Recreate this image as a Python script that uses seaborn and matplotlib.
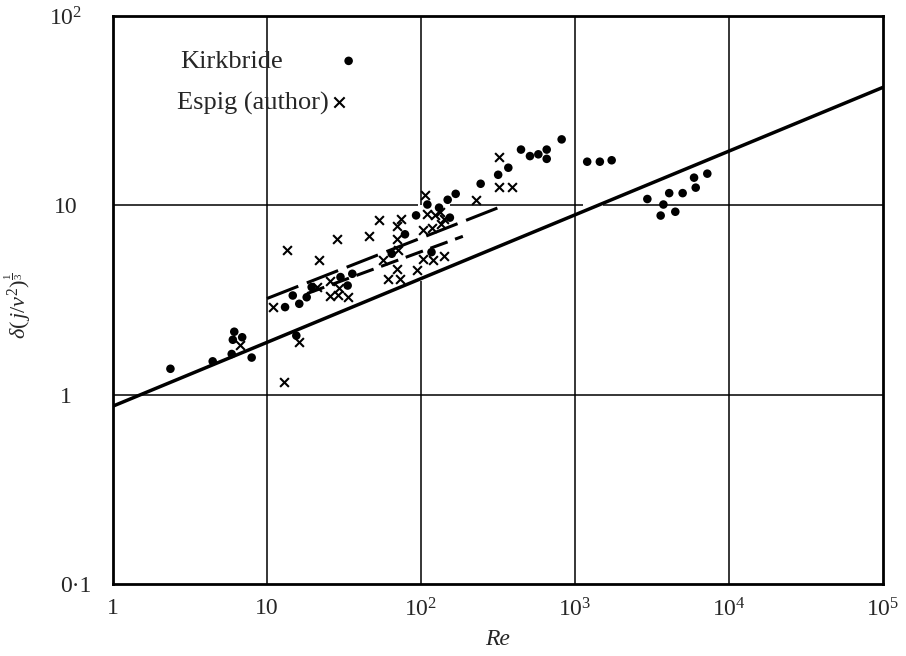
import matplotlib
matplotlib.use("Agg")
import matplotlib.pyplot as plt
import matplotlib.transforms as mtrans
import seaborn as sns
from matplotlib.ticker import NullLocator

# Kirkbride data (dots)
kirk_re = [2.36, 4.44, 5.9, 6.0, 6.13, 6.9, 7.95, 13.1, 14.7, 15.5, 16.2, 18.1, 19.5,
           30, 33.4, 35.8, 64.6, 78.7, 92.9, 110, 117, 131, 149, 154, 168, 244, 317,
           369, 446, 510, 578, 655, 655, 819, 1200, 1450, 1730, 2950, 3600, 3750,
           4090, 4480, 5000, 5930, 6080, 7230]
kirk_d = [1.37, 1.50, 1.64, 1.95, 2.15, 2.01, 1.57, 2.90, 3.34, 2.05, 3.02, 3.27, 3.70,
          4.18, 3.77, 4.35, 5.55, 7.03, 8.85, 10.1, 5.66, 9.72, 10.7, 8.61, 11.5, 13.0, 14.5,
          15.8, 19.7, 18.2, 18.6, 19.7, 17.6, 22.3, 17.0, 17.0, 17.3, 10.8, 8.83, 10.1,
          11.6, 9.25, 11.6, 14.0, 12.4, 14.7]

# Espig (author) data (crosses)
espig_re = [6.7, 11, 12.9, 13.4, 16.2, 21.8, 28.3, 46.1, 53.3, 69.5, 74, 69.5, 70.6,
            56.9, 69.5, 60.7, 72.9, 93.6, 103, 120, 140, 106, 109, 123, 133, 103, 117,
            134, 140, 228, 322, 322, 390, 21, 25.6, 29.3, 25.6, 29, 33.8]
espig_d = [1.82, 2.92, 1.16, 5.83, 1.89, 5.12, 6.67, 6.86, 8.33, 7.74, 8.51, 6.67, 5.78,
           5.12, 4.62, 4.09, 4.09, 4.57, 5.22, 5.12, 5.43, 11.3, 9.04, 8.85, 9.22, 7.43, 7.62,
           7.94, 8.51, 10.7, 12.5, 17.9, 12.5, 3.70, 3.98, 3.67, 3.34, 3.38, 3.27]

# lines (end points)
nusselt_re = [1, 1e5]
nusselt_d = [0.87, 42]
upper_re = [10, 326]
upper_d = [3.22, 9.8]
lower_re = [18.2, 187]
lower_d = [3.42, 6.86]

x_ticks = [1, 10, 1e2, 1e3, 1e4, 1e5]
x_labels = ["1", "10", "$10^2$", "$10^3$", "$10^4$", "$10^5$"]
y_ticks = [0.1, 1, 10, 100]
y_labels = ["0\u00b71", "1", "10", "$10^2$"]

sns.set_theme(style="white")
plt.rcParams["font.family"] = ["Liberation Serif", "DejaVu Serif"]
plt.rcParams["mathtext.fontset"] = "custom"
plt.rcParams["mathtext.rm"] = "Liberation Serif"
plt.rcParams["mathtext.it"] = "Liberation Serif:italic"

fig = plt.figure(figsize=(9.06, 6.56), dpi=100)
ax = fig.add_axes([113 / 906, 1 - 584 / 656, 770 / 906, 568 / 656])
ax.set_xscale("log")
ax.set_yscale("log")
ax.set_xlim(1, 1e5)
ax.set_ylim(0.1, 100)

# grid (broken where the original is broken)
gkw = dict(color="black", lw=1.1, zorder=1)
ax.vlines(10, 0.1, 100, **gkw)
ax.vlines(100, 0.1, 4.0, **gkw)
ax.vlines(100, 10, 100, **gkw)
ax.vlines(1e3, 0.1, 100, **gkw)
ax.vlines(1e4, 0.1, 100, **gkw)
ax.hlines(1, 1, 1e5, **gkw)
ax.hlines(10, 1, 95, **gkw)
ax.hlines(10, 155, 1130, **gkw)
ax.hlines(10, 1520, 1e5, **gkw)

sns.lineplot(x=nusselt_re, y=nusselt_d, ax=ax, color="black", lw=2.5, zorder=3)
sns.lineplot(x=upper_re, y=upper_d, ax=ax, color="black", lw=2.2,
             linestyle=(0, (11, 3)), zorder=3)
sns.lineplot(x=lower_re, y=lower_d, ax=ax, color="black", lw=2.2,
             linestyle=(0, (6, 2.6)), zorder=3)

sns.scatterplot(x=kirk_re, y=kirk_d, ax=ax, marker="o", s=38, color="black",
                edgecolor="none", zorder=4)
sns.scatterplot(x=espig_re, y=espig_d, ax=ax, marker="x", s=40, color="black",
                linewidth=1.5, zorder=4)

# legend written as in the original
ax.text(0.087, 0.919, "Kirkbride", transform=ax.transAxes, va="center", fontsize=19)
ax.scatter([0.306], [0.921], transform=ax.transAxes, marker="o", s=38, color="black",
           edgecolor="none")
ax.text(0.083, 0.846, "Espig (author)", transform=ax.transAxes, va="center", fontsize=19)
ax.scatter([0.294], [0.848], transform=ax.transAxes, marker="x", s=55, color="black",
           linewidth=1.5)

ax.set_xticks(x_ticks)
ax.set_xticklabels(x_labels, fontsize=17)
ax.set_yticks(y_ticks)
ax.set_yticklabels(y_labels, fontsize=17)
ax.xaxis.set_minor_locator(NullLocator())
ax.yaxis.set_minor_locator(NullLocator())
ax.tick_params(axis="x", length=0, pad=10)
ax.tick_params(axis="y", length=0, pad=34)
for t in ax.get_yticklabels():
    t.set_horizontalalignment("center")
# the 0·1 label sits further right in the original
lab01 = ax.get_yticklabels()[0]
lab01.set_transform(lab01.get_transform() + mtrans.ScaledTranslation(10 / 100, 0, fig.dpi_scale_trans))

for s in ax.spines.values():
    s.set_color("black")
    s.set_linewidth(2.0)

ax.set_xlabel("Re", fontsize=17, style="italic")
ax.xaxis.set_label_coords(0.5, -0.08)
ax.set_ylabel(r"$\delta(\,j/\nu^2)^{\frac{1}{3}}$", fontsize=16)
ax.yaxis.set_label_coords(-0.104, 0.49)

fig.savefig("out.png", dpi=100)
